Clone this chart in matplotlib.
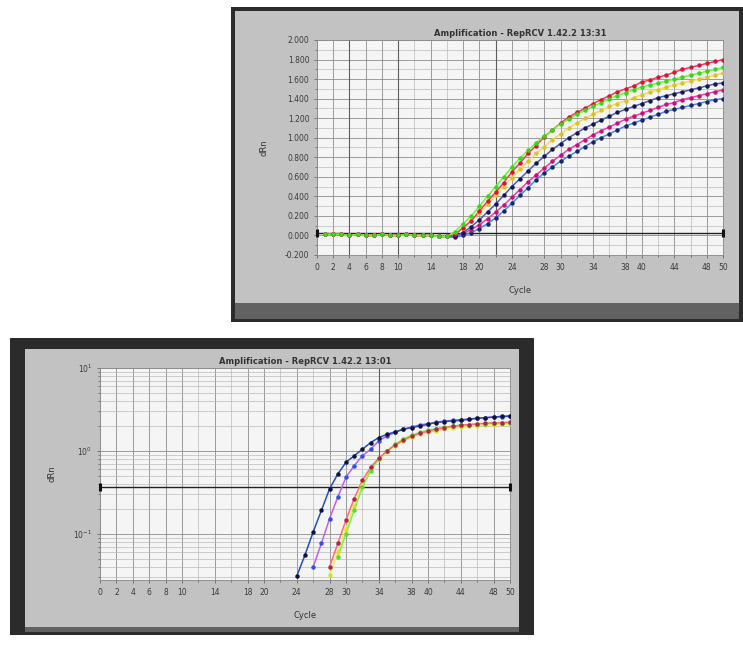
import numpy as np
import matplotlib.pyplot as plt
from matplotlib.patches import Rectangle
from matplotlib.ticker import MultipleLocator, FixedLocator, LogLocator, NullFormatter

W, H = 743, 649

#text (blurry in the source, best guess)
top_title = 'Amplification - RepRCV 1.42.2 13:31'
bottom_title = 'Amplification - RepRCV 1.42.2 13:01'
x_label = 'Cycle'
y_label = 'dRn'
cycle_ticks = [0, 2, 4, 6, 8, 10, 14, 18, 20, 24, 28, 30, 34, 38, 40, 44, 48, 50]
top_yticks = [-0.2, 0.0, 0.2, 0.4, 0.6, 0.8, 1.0, 1.2, 1.4, 1.6, 1.8, 2.0]

#top chart: linear dRn, cycles 1-16 shared baseline, then each well from cycle 17 to 50
top_baseline = [0.01, 0.01, 0.01, 0.0, 0.01, 0.0, 0.0, 0.01, 0.0, 0.0, 0.01, 0.0, 0.0, 0.0, -0.01, -0.01]
top_blue = [-0.02, 0.0, 0.03, 0.07, 0.12, 0.18, 0.25, 0.33, 0.41, 0.49, 0.57, 0.64, 0.70, 0.76, 0.81, 0.86, 0.91,
            0.96, 1.00, 1.04, 1.08, 1.12, 1.15, 1.18, 1.21, 1.24, 1.27, 1.29, 1.31, 1.33, 1.35, 1.37, 1.39, 1.40]
top_magenta = [-0.01, 0.02, 0.06, 0.11, 0.17, 0.24, 0.31, 0.39, 0.47, 0.55, 0.62, 0.69, 0.76, 0.82, 0.88, 0.93, 0.98,
               1.03, 1.07, 1.11, 1.15, 1.19, 1.22, 1.25, 1.28, 1.31, 1.34, 1.36, 1.39, 1.41, 1.43, 1.45, 1.47, 1.49]
top_navy = [-0.01, 0.03, 0.09, 0.16, 0.24, 0.32, 0.41, 0.50, 0.58, 0.66, 0.74, 0.81, 0.88, 0.94, 1.00, 1.05, 1.10,
            1.14, 1.18, 1.22, 1.26, 1.29, 1.32, 1.35, 1.38, 1.41, 1.43, 1.45, 1.47, 1.49, 1.51, 1.53, 1.55, 1.56]
top_yellow = [0.02, 0.08, 0.15, 0.23, 0.32, 0.41, 0.50, 0.59, 0.68, 0.76, 0.84, 0.91, 0.98, 1.04, 1.10, 1.15, 1.20,
              1.24, 1.28, 1.32, 1.35, 1.38, 1.41, 1.44, 1.47, 1.49, 1.52, 1.54, 1.56, 1.58, 1.60, 1.62, 1.64, 1.66]
top_red = [0.01, 0.08, 0.15, 0.25, 0.35, 0.44, 0.54, 0.65, 0.74, 0.84, 0.92, 1.01, 1.08, 1.15, 1.21, 1.26, 1.30,
           1.35, 1.39, 1.43, 1.47, 1.50, 1.53, 1.57, 1.59, 1.62, 1.64, 1.67, 1.70, 1.72, 1.74, 1.76, 1.78, 1.80]
top_green = [0.04, 0.12, 0.20, 0.30, 0.40, 0.50, 0.60, 0.70, 0.79, 0.87, 0.95, 1.02, 1.08, 1.14, 1.19, 1.24, 1.28,
             1.32, 1.36, 1.40, 1.43, 1.46, 1.49, 1.52, 1.54, 1.56, 1.58, 1.60, 1.62, 1.64, 1.66, 1.68, 1.70, 1.72]
top_threshold = 0.02

#bottom chart: log dRn, only the cycles above the axis floor
bot_black_start = 24
bot_black = [0.031, 0.056, 0.106, 0.192, 0.350, 0.528, 0.730, 0.877, 1.05, 1.26, 1.45, 1.59, 1.70, 1.83,
             1.91, 2.00, 2.10, 2.20, 2.26, 2.30, 2.34, 2.41, 2.48, 2.52, 2.56, 2.61, 2.64]
bot_blue_start = 26
bot_blue = [0.040, 0.077, 0.153, 0.278, 0.482, 0.665, 0.877, 1.05, 1.32, 1.52, 1.67, 1.83, 1.95, 2.06,
            2.14, 2.22, 2.30, 2.34, 2.39, 2.43, 2.48, 2.52, 2.56, 2.59, 2.61]
bot_red_start = 28
bot_red = [0.040, 0.077, 0.147, 0.267, 0.441, 0.636, 0.819, 1.00, 1.18, 1.35, 1.51, 1.63, 1.73, 1.83,
           1.91, 1.98, 2.04, 2.08, 2.12, 2.16, 2.18, 2.20, 2.22]
bot_yellow_start = 28
bot_yellow = [0.032, 0.060, 0.115, 0.22, 0.39, 0.60, 0.80, 0.98, 1.16, 1.32, 1.46, 1.58, 1.68, 1.76,
              1.83, 1.89, 1.94, 1.98, 2.02, 2.05, 2.08, 2.11, 2.13]
bot_green_start = 29
bot_green = [0.053, 0.101, 0.192, 0.366, 0.579, 0.80, 1.00, 1.21, 1.39, 1.55, 1.67, 1.78, 1.86, 1.93,
             1.99, 2.04, 2.08, 2.12, 2.14, 2.16, 2.18, 2.20]
bot_threshold = 0.37


def fig_box(x0, y0, x1, y1):
    #pixel box (top-left origin) -> figure fraction [l, b, w, h]
    return [x0 / W, 1 - y1 / H, (x1 - x0) / W, (y1 - y0) / H]


def add_rect(fig, x0, y0, x1, y1, color, z=0):
    l, b, w, h = fig_box(x0, y0, x1, y1)
    fig.add_artist(Rectangle((l, b), w, h, transform=fig.transFigure,
                             facecolor=color, edgecolor='none', zorder=z))


def draw_panel(fig, x0, y0, x1, y1, side, top, bottom_band):
    add_rect(fig, x0, y0, x1, y1, '#2b2b2b', -5)
    add_rect(fig, x0 + side, y0 + top, x1 - side, y1 - 3, '#626262', -4)
    add_rect(fig, x0 + side, y0 + top, x1 - side, y1 - bottom_band, '#c2c2c2', -3)


def style_axes(ax, title):
    ax.set_facecolor('#f5f5f5')
    for s in ax.spines.values():
        s.set_color('#8a8a8a')
        s.set_linewidth(0.6)
    ax.tick_params(which='both', direction='out', colors='#555555', labelcolor='#3a3a3a',
                   labelsize=5.5, length=2, width=0.5)
    ax.tick_params(which='minor', length=1.5)
    ax.set_xlim(0, 50)
    ax.xaxis.set_major_locator(FixedLocator(cycle_ticks))
    ax.xaxis.set_minor_locator(MultipleLocator(2))
    ax.grid(which='major', color='#8c8c8c', linewidth=0.6)
    ax.grid(which='minor', color='#b4b4b4', linewidth=0.45)
    ax.set_axisbelow(True)
    ax.set_title(title, fontsize=6, fontweight='bold', color='#333333', pad=3)
    ax.set_xlabel(x_label, fontsize=6, color='#333333', labelpad=10)
    ax.set_ylabel(y_label, fontsize=6, color='#333333', labelpad=12)


def well(ax, cycles, values, line_color, marker_color):
    ax.plot(cycles, values, '-', color=line_color, linewidth=1.1, zorder=3)
    ax.plot(cycles, values, 'o', color=marker_color, markersize=3.2, markeredgewidth=0, zorder=4)


def threshold(ax, y):
    ax.plot([0, 50], [y, y], color='#222222', linewidth=1.0, zorder=2)
    ax.plot([0, 50], [y, y], '|', color='#111111', markersize=6, markeredgewidth=2.2,
            clip_on=False, zorder=5)


fig = plt.figure(figsize=(W / 100, H / 100), dpi=100)
fig.patch.set_facecolor('white')

draw_panel(fig, 231, 7, 743, 322, 4, 4, 19)
draw_panel(fig, 10, 338, 534, 635, 15, 11, 8)

#top chart
ax1 = fig.add_axes(fig_box(317, 40, 723, 255))
style_axes(ax1, top_title)
ax1.set_ylim(-0.2, 2.0)
ax1.yaxis.set_major_locator(FixedLocator(top_yticks))
ax1.yaxis.set_minor_locator(MultipleLocator(0.1))
ax1.set_yticklabels(['%.3f' % v for v in top_yticks])
for c in [4, 10, 22]:
    ax1.axvline(c, color='#5e5e5e', linewidth=0.8, zorder=1)
threshold(ax1, top_threshold)

base_cycles = list(range(1, len(top_baseline) + 1))
rise_cycles = list(range(len(top_baseline) + 1, 51))
top_wells = [
    (top_blue, '#3d8cff', '#1f2560'),
    (top_magenta, '#ff3aa8', '#c0147c'),
    (top_navy, '#4a5cc0', '#16184a'),
    (top_yellow, '#ffd75a', '#d8c428'),
    (top_red, '#ff3a5a', '#d01838'),
    (top_green, '#66ff33', '#3fd020'),
]
for vals, lc, mc in top_wells:
    well(ax1, base_cycles + rise_cycles, top_baseline + vals, lc, mc)

#bottom chart
ax2 = fig.add_axes(fig_box(100, 368, 510, 580))
style_axes(ax2, bottom_title)
ax2.set_yscale('log')
ax2.set_ylim(10 ** -1.555, 10)
ax2.yaxis.set_major_locator(LogLocator(base=10, numticks=10))
ax2.yaxis.set_minor_locator(LogLocator(base=10, subs=np.arange(2, 10), numticks=10))
ax2.yaxis.set_minor_formatter(NullFormatter())
ax2.axvline(34, color='#5e5e5e', linewidth=0.8, zorder=1)
threshold(ax2, bot_threshold)

bottom_wells = [
    (bot_yellow_start, bot_yellow, '#f0ee4a', '#dede30'),
    (bot_green_start, bot_green, '#80f048', '#58dc30'),
    (bot_red_start, bot_red, '#ff6a80', '#a82848'),
    (bot_blue_start, bot_blue, '#c060f0', '#3550dd'),
    (bot_black_start, bot_black, '#2050c0', '#111133'),
]
for start, vals, lc, mc in bottom_wells:
    well(ax2, list(range(start, start + len(vals))), vals, lc, mc)

fig.savefig('out.png', dpi=100, facecolor='white')
